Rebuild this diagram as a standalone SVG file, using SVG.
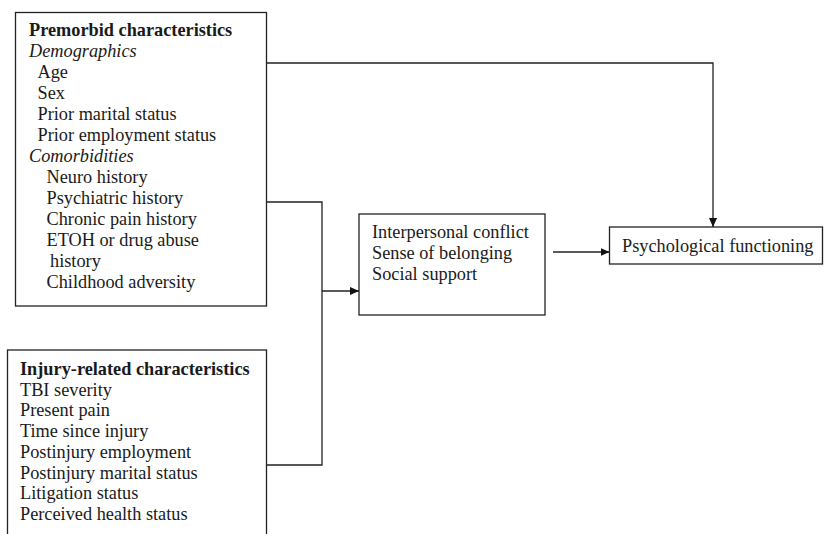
<svg xmlns="http://www.w3.org/2000/svg" width="824" height="534" viewBox="0 0 824 534">
<style>
.box{fill:#fff;stroke:#222;stroke-width:1.3}
.t{font-family:"Liberation Serif","Times New Roman",serif;font-size:18.3px;fill:#1a1a1a}
.b{font-weight:bold}
.i{font-style:italic}
.c{fill:none;stroke:#222;stroke-width:1.3}
</style>
<defs>
<marker id="ah" viewBox="0 0 10 10" refX="10" refY="5" markerWidth="9" markerHeight="9" markerUnits="userSpaceOnUse" orient="auto">
<path d="M0,0.5 L10,5 L0,9.5 Z" fill="#111"/>
</marker>
</defs>
<rect width="824" height="534" fill="#fff"/>
<g id="premorbid">
<rect class="box" x="15.5" y="12.5" width="251" height="293.5"/>
<text class="t b" x="29" y="36">Premorbid characteristics</text>
<text class="t i" x="29" y="57">Demographics</text>
<text class="t" x="37.5" y="78">Age</text>
<text class="t" x="37.5" y="99">Sex</text>
<text class="t" x="37.5" y="120">Prior marital status</text>
<text class="t" x="37.5" y="141">Prior employment status</text>
<text class="t i" x="29" y="162">Comorbidities</text>
<text class="t" x="46.5" y="183">Neuro history</text>
<text class="t" x="46.5" y="204">Psychiatric history</text>
<text class="t" x="46.5" y="225">Chronic pain history</text>
<text class="t" x="46.5" y="246">ETOH or drug abuse</text>
<text class="t" x="50" y="267">history</text>
<text class="t" x="46.5" y="288">Childhood adversity</text>
</g>
<g id="injury">
<rect class="box" x="7.5" y="350" width="259" height="200"/>
<text class="t b" x="20" y="374.5">Injury-related characteristics</text>
<text class="t" x="20" y="395.5">TBI severity</text>
<text class="t" x="20" y="416">Present pain</text>
<text class="t" x="20" y="437">Time since injury</text>
<text class="t" x="20" y="457.5">Postinjury employment</text>
<text class="t" x="20" y="478.5">Postinjury marital status</text>
<text class="t" x="20" y="499">Litigation status</text>
<text class="t" x="20" y="520">Perceived health status</text>
</g>
<g id="social">
<rect class="box" x="359" y="214" width="186" height="101"/>
<text class="t" x="372" y="238">Interpersonal conflict</text>
<text class="t" x="372" y="259">Sense of belonging</text>
<text class="t" x="372" y="280">Social support</text>
</g>
<g id="psych">
<rect class="box" x="609.5" y="227" width="213" height="37"/>
<text class="t" x="622" y="251.5">Psychological functioning</text>
</g>
<g id="connectors">
<path class="c" d="M266.5,63 H713 V227" marker-end="url(#ah)"/>
<path class="c" d="M266.5,202 H322 V465 H266.5"/>
<path class="c" d="M322,291 H359" marker-end="url(#ah)"/>
<path class="c" d="M553,252 H609.5" marker-end="url(#ah)"/>
</g>
</svg>
